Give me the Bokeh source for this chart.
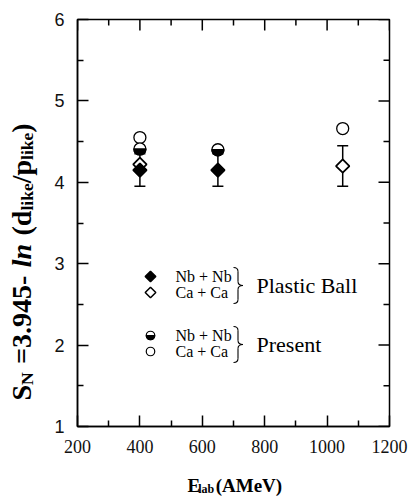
import numpy as np
from bokeh.plotting import figure
from bokeh.layouts import row, column
from bokeh.models import (Range1d, ColumnDataSource, Whisker, TeeHead, FixedTicker)
from bokeh.core.properties import value
from bokeh.embed import file_html
from bokeh.resources import INLINE

# ---------------- data ----------------
nb_plastic_e = [400, 650]
nb_plastic_sn = [4.15, 4.15]
nb_plastic_err = [0.20, 0.20]

ca_plastic_e = [400, 1050]
ca_plastic_sn = [4.22, 4.20]
ca_plastic_err = [0.0, 0.25]

nb_present_e = [400, 650]
nb_present_sn = [4.41, 4.40]

ca_present_e = [400, 1050]
ca_present_sn = [4.55, 4.66]

x_ticks = [200, 400, 600, 800, 1000, 1200]
x_minor = [300, 500, 700, 900, 1100]
y_ticks = [1, 2, 3, 4, 5, 6]
y_minor = [1.5, 2.5, 3.5, 4.5, 5.5]

legend_pairs = ["Nb + Nb", "Ca + Ca"]
legend_groups = ["Plastic Ball", "Present"]

# ---------------- layout ----------------
PW, PH = 414, 497          # page
LW = 45                    # left strip (y title)
XH = 27                    # bottom strip (x title)
W, H = PW - LW, PH - XH    # main figure
FL, FR, FT, FB = 77, 389, 19, 426   # frame in page px
X0, X1, Y0, Y1 = 200, 1200, 1, 6

def dx(px):  # page px -> data x
    return X0 + (px - FL) * (X1 - X0) / (FR - FL)

def dy(py):  # page px -> data y
    return Y0 + (FB - py) * (Y1 - Y0) / (FB - FT)

p = figure(width=W, height=H, x_range=Range1d(X0, X1), y_range=Range1d(Y0, Y1),
           output_backend="svg", toolbar_location=None,
           min_border_left=FL - LW, min_border_right=PW - FR, min_border_top=FT,
           min_border_bottom=H - FB)
p.grid.visible = False
p.outline_line_color = "black"
p.outline_line_width = 1.5
p.background_fill_color = "white"
p.border_fill_color = "white"

def style_axis(ax, ticks, minor, font, size):
    ax.ticker = FixedTicker(ticks=ticks, minor_ticks=minor)
    ax.major_tick_in = 11
    ax.major_tick_out = 0
    ax.minor_tick_in = 6
    ax.minor_tick_out = 0
    ax.axis_line_width = 1.5
    ax.major_tick_line_width = 1.5
    ax.minor_tick_line_width = 1.5
    ax.axis_line_color = "black"
    ax.major_tick_line_color = "black"
    ax.minor_tick_line_color = "black"
    ax.major_label_text_font = font
    ax.major_label_text_font_size = size
    ax.major_label_text_color = "#111111"
    ax.major_label_standoff = 13

style_axis(p.xaxis[0], x_ticks, x_minor, "Liberation Serif", "18px")
style_axis(p.yaxis[0], y_ticks, y_minor, "Liberation Sans", "18px")

# mirrored ticks on top and right edges
p.ray(x=x_ticks, y=[Y1] * len(x_ticks), length=11, length_units="screen",
      angle=-np.pi / 2, line_color="black", line_width=1.5)
p.ray(x=x_minor, y=[Y1] * len(x_minor), length=6, length_units="screen",
      angle=-np.pi / 2, line_color="black", line_width=1.5)
p.ray(x=[X1] * len(y_ticks), y=y_ticks, length=11, length_units="screen",
      angle=np.pi, line_color="black", line_width=1.5)
p.ray(x=[X1] * len(y_minor), y=y_minor, length=6, length_units="screen",
      angle=np.pi, line_color="black", line_width=1.5)

# ---------------- error bars ----------------
err_e = nb_plastic_e + [ca_plastic_e[1]]
err_c = nb_plastic_sn + [ca_plastic_sn[1]]
err_d = nb_plastic_err + [ca_plastic_err[1]]
esrc = ColumnDataSource(dict(x=err_e,
                             lo=[c - d for c, d in zip(err_c, err_d)],
                             hi=[c + d for c, d in zip(err_c, err_d)]))
wh = Whisker(source=esrc, base="x", lower="lo", upper="hi", line_width=1.5,
             line_color="black",
             upper_head=TeeHead(size=11, line_width=1.5, line_color="black"),
             lower_head=TeeHead(size=11, line_width=1.5, line_color="black"))
wh.level = "underlay"
p.add_layout(wh)

# ---------------- markers ----------------
DIA = 9.5
p.scatter(ca_plastic_e, ca_plastic_sn, marker="square", angle=np.pi / 4, size=DIA,
          fill_color="white", line_color="black", line_width=1.8)
p.scatter(nb_plastic_e, nb_plastic_sn, marker="square", angle=np.pi / 4, size=DIA,
          fill_color="black", line_color="black", line_width=1.8)
p.scatter(ca_present_e, ca_present_sn, marker="circle", size=12,
          fill_color="white", line_color="black", line_width=1.3)
p.scatter(nb_present_e, nb_present_sn, marker="circle", size=12,
          fill_color="white", line_color="black", line_width=1.3)
p.wedge(nb_present_e, nb_present_sn, radius=6, radius_units="screen",
        start_angle=np.pi, end_angle=2 * np.pi, fill_color="black",
        line_color="black", line_width=1.3)

# ---------------- legend (in plot) ----------------
mx, tx = dx(150), dx(175)
rows = [dy(276), dy(292), dy(335), dy(351)]
p.scatter([mx], [rows[0]], marker="square", angle=np.pi / 4, size=7.5,
          fill_color="black", line_color="black", line_width=1.5)
p.scatter([mx], [rows[1]], marker="square", angle=np.pi / 4, size=7.5,
          fill_color="white", line_color="black", line_width=1.5)
p.scatter([mx], [rows[2]], marker="circle", size=8.5,
          fill_color="white", line_color="black", line_width=1.2)
p.wedge([mx], [rows[2]], radius=4.25, radius_units="screen",
        start_angle=np.pi, end_angle=2 * np.pi, fill_color="black",
        line_color="black", line_width=1.2)
p.scatter([mx], [rows[3]], marker="circle", size=8.5,
          fill_color="white", line_color="black", line_width=1.2)

p.text(x=[tx] * 4, y=rows, text=[legend_pairs[i % 2] for i in range(4)],
       text_font=value("Liberation Serif"), text_font_size="16px",
       text_baseline="middle", text_align="left", text_color="black")

def brace(top_py, bot_py):
    x0, xm, x1 = dx(233), dx(237.5), dx(242.5)
    t, b = top_py, bot_py
    m = (t + b) / 2
    q = 4
    kw = dict(line_color="black", line_width=1.1)
    p.quadratic(x0=[x0], y0=[dy(t)], x1=[xm], y1=[dy(t + q)], cx=[xm], cy=[dy(t)], **kw)
    p.segment(x0=[xm], y0=[dy(t + q)], x1=[xm], y1=[dy(m - q)], **kw)
    p.quadratic(x0=[xm], y0=[dy(m - q)], x1=[x1], y1=[dy(m)], cx=[xm], cy=[dy(m)], **kw)
    p.quadratic(x0=[x1], y0=[dy(m)], x1=[xm], y1=[dy(m + q)], cx=[xm], cy=[dy(m)], **kw)
    p.segment(x0=[xm], y0=[dy(m + q)], x1=[xm], y1=[dy(b - q)], **kw)
    p.quadratic(x0=[xm], y0=[dy(b - q)], x1=[x0], y1=[dy(b)], cx=[xm], cy=[dy(b)], **kw)
    return dy(m)

g1 = brace(267, 303)
g2 = brace(326, 362)
p.text(x=[dx(256)] * 2, y=[g1, g2], text=legend_groups,
       text_font=value("Liberation Serif"), text_font_size="22px",
       text_baseline="middle", text_align="left", text_color="black")

# ---------------- axis titles (composed in side strips) ----------------
SERIF = "Liberation Serif"
bold_w = {' ': 250, '(': 333, ')': 333, '=': 570, '-': 333, '.': 250, '/': 278,
          'S': 556, 'N': 722, 'd': 556, 'p': 556, 'l': 278, 'i': 278, 'k': 556,
          'e': 444, 'n': 556, 'E': 667, 'A': 722, 'M': 944, 'V': 722, 'a': 500,
          'b': 556, '3': 500, '9': 500, '4': 500, '5': 500}

def tw(s, fs):
    return sum(bold_w.get(c, 500) for c in s) * fs / 1000.0

def strip(w, h):
    f = figure(width=w, height=h, x_range=Range1d(0, w), y_range=Range1d(0, h),
               output_backend="svg", toolbar_location=None, title=None,
               x_axis_location=None, y_axis_location=None,
               min_border_left=0, min_border_right=0, min_border_top=0,
               min_border_bottom=0, min_border=0)
    f.grid.visible = False
    f.outline_line_color = None
    f.background_fill_color = "white"
    f.border_fill_color = "white"
    return f

ystrip = strip(LW, PH)
# (text, subscript?, italic?, gap before in em of main font)
ypieces = [("S", False, False, 0), ("N", True, False, 0), ("=3.945-", False, False, 0.3),
           ("ln", False, True, 0.3), ("(d", False, False, 0.3), ("like", True, False, 0),
           ("/p", False, False, 0), ("like", True, False, 0), (")", False, False, 0)]
FSM, FSS = 28, 17.5
base_x, sub_x = 21, 26
pos = 400.0
for txt, sub, ital, gap in ypieces:
    fs = FSS if sub else FSM
    pos -= gap * FSM
    ystrip.text(x=[sub_x if sub else base_x], y=[PH - pos], text=[txt], angle=np.pi / 2,
                text_font=value(SERIF), text_font_size=f"{fs}px",
                text_font_style="bold italic" if ital else "bold",
                text_align="left", text_baseline="alphabetic", text_color="black")
    pos -= tw(txt, fs)

xstrip = strip(W, XH)
xpieces = [("E", False, 0), ("lab", True, 0), ("(AMeV)", False, 0.25)]
XFM, XFS = 19, 12
px_ = 175.0
for txt, sub, gap in xpieces:
    fs = XFS if sub else XFM
    px_ += gap * XFM
    base_py = 488 if sub else 485
    xstrip.text(x=[px_ - LW], y=[PH - base_py], text=[txt],
                text_font=value(SERIF), text_font_size=f"{fs}px", text_font_style="bold",
                text_align="left", text_baseline="alphabetic", text_color="black")
    px_ += tw(txt, fs)

layout = row(ystrip, column(p, xstrip, spacing=0), spacing=0)
open("out.html", "w").write(file_html(layout, INLINE))
